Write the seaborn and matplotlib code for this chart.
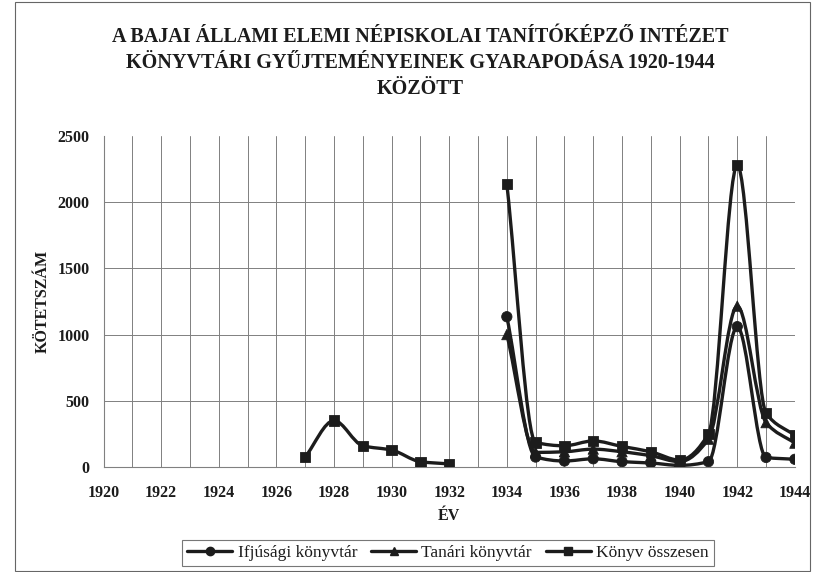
import numpy as np
import pandas as pd
import seaborn as sns
import matplotlib
matplotlib.use('Agg')
import matplotlib.pyplot as plt
from matplotlib.path import Path
from matplotlib.patches import PathPatch, Rectangle
from matplotlib.lines import Line2D

nan = np.nan

# data
years = list(range(1927, 1945))
ifjusagi = [nan, nan, nan, nan, nan, nan, nan,
            1135, 75, 45, 62, 40, 30, 12, 40, 1060, 72, 58]
tanari = [nan, nan, nan, nan, nan, nan, nan,
          1000, 110, 115, 135, 115, 85, 40, 210, 1215, 335, 180]
osszesen = [75, 350, 160, 128, 40, 23, nan,
            2137, 185, 160, 197, 155, 115, 52, 250, 2280, 407, 238]

series_names = ['Ifjúsági könyvtár', 'Tanári könyvtár', 'Könyv összesen']
series_values = [ifjusagi, tanari, osszesen]
series_markers = ['o', '^', 's']

ink = '#1c1c1c'

sns.set_theme(style='white')
plt.rcParams['font.family'] = ['Liberation Serif', 'DejaVu Serif']

df = pd.DataFrame({'év': years * 3,
                   'kötet': ifjusagi + tanari + osszesen,
                   'sorozat': sum([[n] * len(years) for n in series_names], [])})

fig = plt.figure(figsize=(8.22, 5.72), dpi=100)
ax = fig.add_axes([0.126, 0.1836, 0.841, 0.5786])


def smooth_path(xs, ys):
    # smoothed line drawn as Bezier curves, slopes limited so it doesn't overshoot much
    xs = np.asarray(xs, float)
    ys = np.asarray(ys, float)
    n = len(xs)
    d = np.diff(ys) / np.diff(xs)
    m = np.zeros(n)
    m[0], m[-1] = d[0], d[-1]
    for i in range(1, n - 1):
        if d[i - 1] * d[i] <= 0:
            m[i] = 0.0
        else:
            m[i] = 2.0 / (1.0 / d[i - 1] + 1.0 / d[i])
    verts, codes = [(xs[0], ys[0])], [Path.MOVETO]
    for i in range(n - 1):
        h = xs[i + 1] - xs[i]
        verts += [(xs[i] + h / 3, ys[i] + m[i] * h / 3),
                  (xs[i + 1] - h / 3, ys[i + 1] - m[i + 1] * h / 3),
                  (xs[i + 1], ys[i + 1])]
        codes += [Path.CURVE4] * 3
    return Path(verts, codes)


for vals in series_values:
    seg_x, seg_y = [], []
    for x, y in list(zip(years, vals)) + [(None, nan)]:
        if np.isnan(y):
            if len(seg_x) > 1:
                ax.add_patch(PathPatch(smooth_path(seg_x, seg_y), fill=False,
                                       lw=2.4, edgecolor=ink, zorder=3))
            seg_x, seg_y = [], []
        else:
            seg_x.append(x)
            seg_y.append(y)

sns.scatterplot(data=df.dropna(), x='év', y='kötet', style='sorozat',
                markers=dict(zip(series_names, series_markers)),
                style_order=series_names, color=ink, s=55,
                edgecolor=ink, legend=False, ax=ax, zorder=4)

ax.set_xlim(1920, 1944)
ax.set_ylim(0, 2500)
ax.set_xticks(range(1920, 1945, 2))
ax.set_xticks(range(1920, 1945), minor=True)
ax.set_yticks(range(0, 2501, 500))
ax.grid(True, which='both', color='#808080', lw=0.7)
ax.set_axisbelow(True)
ax.yaxis.get_gridlines()[-1].set_visible(False)
for s in ['top', 'right']:
    ax.spines[s].set_visible(False)
for s in ['left', 'bottom']:
    ax.spines[s].set_color('#808080')
    ax.spines[s].set_linewidth(0.8)
ax.tick_params(axis='both', which='both', direction='out', length=4,
               width=0.7, color='#808080', labelsize=11.5, labelcolor=ink, pad=6)
ax.tick_params(axis='x', which='major', pad=9)
for lab in ax.get_xticklabels() + ax.get_yticklabels():
    lab.set_fontweight('bold')

ax.set_xlabel('ÉV', fontsize=11.5, fontweight='bold', color=ink, labelpad=5)
ax.set_ylabel('KÖTETSZÁM', fontsize=11.5, fontweight='bold', color=ink, labelpad=5)

fig.text(0.511, 0.952,
         'A BAJAI ÁLLAMI ELEMI NÉPISKOLAI TANÍTÓKÉPZŐ INTÉZET\n'
         'KÖNYVTÁRI GYŰJTEMÉNYEINEK GYARAPODÁSA 1920-1944\n'
         'KÖZÖTT',
         ha='center', va='top', fontsize=14.5, fontweight='bold', color=ink,
         linespacing=1.38)

handles = [Line2D([], [], color=ink, lw=2.4, marker=m, markersize=6)
           for m in series_markers]
leg = fig.legend(handles, series_names, loc='center', bbox_to_anchor=(0.545, 0.033),
                 ncol=3, frameon=True, fancybox=False, fontsize=12.5,
                 handlelength=2.6, handletextpad=0.3, columnspacing=0.8,
                 borderpad=0.3, edgecolor='#555555')
leg.get_frame().set_linewidth(0.8)
for t in leg.get_texts():
    t.set_color(ink)

fig.patches.append(Rectangle((0.018, 0.002), 0.968, 0.994, transform=fig.transFigure,
                             fill=False, edgecolor='#666666', lw=0.8))

fig.savefig('out.png', dpi=100)
